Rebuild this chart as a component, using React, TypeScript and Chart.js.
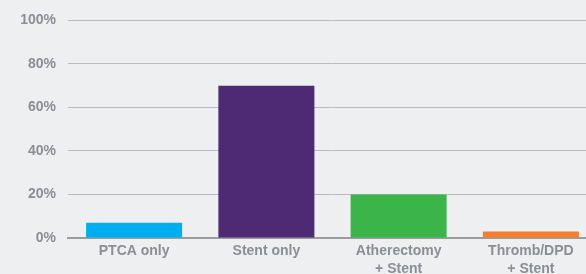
import React, { useEffect, useRef } from "react";
import { Chart, registerables } from "chart.js";

Chart.register(...registerables);

const categories: (string | string[])[] = [
  "PTCA only",
  "Stent only",
  ["Atherectomy", "+ Stent"],
  ["Thromb/DPD", "+ Stent"],
];
const values: number[] = [7, 70, 20, 3];
const barColors: string[] = ["#00aeef", "#4f2a74", "#3bb54a", "#f47d30"];
const yTicks: number[] = [0, 20, 40, 60, 80, 100];

const FONT = { family: "'Liberation Sans', Arial, sans-serif", size: 14, weight: "bold" as const };
const TEXT = "#8b8e93";

export default function App() {
  const ref = useRef<HTMLCanvasElement | null>(null);
  useEffect(() => {
    if (!ref.current) return;
    const chart = new Chart(ref.current, {
      type: "bar",
      data: {
        labels: categories,
        datasets: [
          {
            data: values,
            backgroundColor: barColors,
            borderWidth: 0,
            categoryPercentage: 1,
            barPercentage: 0.726,
          },
        ],
      },
      options: {
        animation: false,
        responsive: false,
        maintainAspectRatio: false,
        layout: { padding: { top: 14, right: 3, left: 0, bottom: 0 } },
        plugins: { legend: { display: false }, tooltip: { enabled: false } },
        scales: {
          x: {
            grid: { display: false, drawTicks: false },
            border: { display: true, color: "#9a9ca0", width: 2 },
            ticks: {
              color: TEXT,
              font: { ...FONT, lineHeight: 1.3 },
              padding: 4,
              maxRotation: 0,
              autoSkip: false,
            },
            afterFit: (s: any) => {
              s.height = 36;
            },
          },
          y: {
            min: 0,
            max: 100,
            afterBuildTicks: (s: any) => {
              s.ticks = yTicks.map((v) => ({ value: v }));
            },
            grid: {
              drawTicks: false,
              color: (c: any) => (c.tick && c.tick.value === 0 ? "rgba(0,0,0,0)" : "#b9bbbf"),
              lineWidth: 1,
            },
            border: { display: false },
            ticks: {
              color: TEXT,
              font: FONT,
              padding: 12,
              callback: (v: any) => v + "%",
            },
            afterFit: (s: any) => {
              s.width = 68;
            },
          },
        },
      },
    });
    return () => chart.destroy();
  }, []);
  return (
    <div
      style={{
        position: "fixed",
        left: 0,
        top: 0,
        width: 586,
        height: 274,
        overflow: "hidden",
        background: "#eeeff1",
      }}
    >
      <canvas ref={ref} width={600} height={274} style={{ display: "block", width: 600, height: 274 }} />
    </div>
  );
}
